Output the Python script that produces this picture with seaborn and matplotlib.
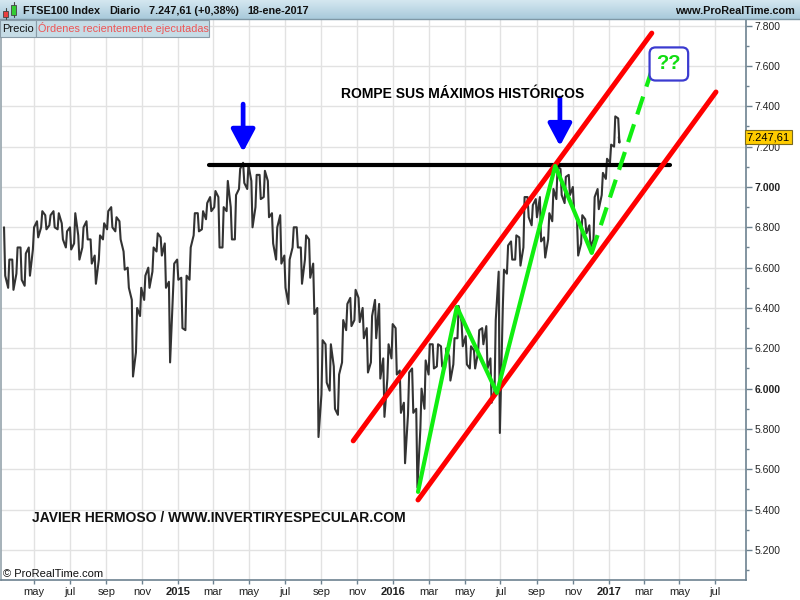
import pandas as pd
import matplotlib
matplotlib.use("Agg")
import matplotlib.pyplot as plt
import numpy as np
from matplotlib.patches import Rectangle
from matplotlib.colors import LinearSegmentedColormap
from matplotlib.transforms import blended_transform_factory
import seaborn as sns

# ---- FTSE100 weekly ranges (week starting Monday) ----
week_start = "2014-03-10"
week_high = [6800, 6640, 6640, 6700, 6700, 6670, 6700, 6800, 6830, 6880,
             6860, 6860, 6880, 6870, 6820, 6780, 6800, 6870, 6760, 6800,
             6830, 6740, 6660, 6760, 6820, 6880, 6900, 6850, 6830, 6680,
             6600, 6440, 6400, 6500, 6560, 6600, 6700, 6770, 6750, 6720,
             6530, 6620, 6640, 6550, 6560, 6700, 6870, 6870, 6880, 6920,
             6950, 6980, 6950, 6900, 7030, 6900, 6960, 7090, 7120, 7110,
             7030, 7060, 7060, 7080, 7030, 6870, 6800, 6860, 6660, 6640,
             6800, 6800, 6700, 6760, 6740, 6620, 6400, 6240, 6220, 6220,
             6110, 6070, 6340, 6420, 6450, 6490, 6450, 6400, 6300, 6360,
             6440, 6420, 6150, 6220, 6320, 6300, 6090, 5930, 6080, 6100,
             5900, 6000, 6140, 6220, 6220, 6220, 6210, 6200, 6160, 6250,
             6410, 6330, 6260, 6210, 6190, 6290, 6300, 6310, 6150, 6340,
             6580, 6590, 6710, 6730, 6760, 6750, 6950, 6950, 6910, 6940,
             6950, 6750, 6870, 6990, 7100, 7090, 7050, 7060, 7000, 6840,
             6860, 6840, 6810, 6950, 6990, 7070, 7140, 7210, 7350, 7340]
week_low = [6560, 6500, 6490, 6570, 6540, 6510, 6560, 6690, 6750, 6800,
            6790, 6810, 6800, 6790, 6740, 6700, 6690, 6720, 6640, 6700,
            6740, 6620, 6520, 6640, 6740, 6790, 6800, 6780, 6740, 6590,
            6500, 6060, 6180, 6360, 6440, 6500, 6580, 6680, 6660, 6500,
            6130, 6480, 6540, 6300, 6290, 6540, 6760, 6780, 6790, 6840,
            6880, 6900, 6700, 6700, 6880, 6740, 6740, 6990, 7020, 6990,
            6800, 6900, 6940, 6950, 6850, 6720, 6640, 6620, 6500, 6420,
            6700, 6700, 6520, 6640, 6550, 6370, 5760, 5970, 6030, 5990,
            5900, 5870, 6130, 6290, 6310, 6340, 6330, 6250, 6080, 6130,
            6250, 6050, 5860, 6050, 6150, 6070, 5880, 5630, 5870, 5880,
            5510, 5800, 5900, 6070, 6100, 6110, 6110, 6100, 6040, 6120,
            6250, 6210, 6120, 6100, 6100, 6180, 6220, 6100, 5930, 5990,
            5780, 6400, 6570, 6640, 6640, 6610, 6700, 6850, 6810, 6850,
            6730, 6650, 6740, 6830, 6940, 6960, 6920, 6960, 6880, 6660,
            6720, 6770, 6700, 6740, 6890, 6960, 7040, 7120, 7200, 7220]
last_date = "2017-01-18"
last_price = 7247.61

# ---- drawn annotations (date, value) ----
resist_dates = ["2015-02-22", "2017-04-15"]
resist_level = 7107
upper_dates = ["2015-10-25", "2017-03-15"]
upper_vals = [5741, 7763]
lower_dates = ["2016-02-12", "2017-07-02"]
lower_vals = [5448, 7471]
zigzag_dates = ["2016-02-12", "2016-04-18", "2016-06-25", "2016-10-02", "2016-12-03"]
zigzag_vals = [5488, 6405, 5979, 7104, 6673]
proj_dates = ["2016-12-03", "2017-03-14"]
proj_vals = [6673, 7570]
arrow_dates = ["2015-04-21", "2016-10-10"]
arrow_top = [7411, 7441]
arrow_tip = [7174, 7203]
qq_date = "2017-04-13"
qq_val = 7610

# ---- axis ticks ----
y_major = [5200, 5400, 5600, 5800, 6000, 6200, 6400, 6600, 6800, 7000, 7200, 7400, 7600, 7800]
y_minor = [5100, 5300, 5500, 5700, 5900, 6100, 6300, 6500, 6700, 6900, 7100, 7300, 7500, 7700]
x_tick_dates = pd.date_range("2014-05-01", "2017-07-01", freq="2MS")
x_tick_labels = ["may", "jul", "sep", "nov", "2015", "mar", "may", "jul", "sep", "nov",
                 "2016", "mar", "may", "jul", "sep", "nov", "2017", "mar", "may", "jul"]

sns.set_theme(style="white")
plt.rcParams["font.family"] = ["Liberation Sans", "DejaVu Sans"]

AXC = "#6d8290"

fig = plt.figure(figsize=(8, 6), dpi=100)
ax = fig.add_axes([0.5 / 800, 20 / 600, 745.5 / 800, 561 / 600])

# continuous high/low zigzag path built from the weekly ranges
week_dates = pd.date_range(week_start, periods=len(week_high), freq="7D")
px, py = [], []
prev = week_high[0]
for d, hi, lo in zip(week_dates, week_high, week_low):
    a, b = (hi, lo) if abs(prev - hi) < abs(prev - lo) else (lo, hi)
    px += [d + pd.Timedelta(days=1), d + pd.Timedelta(days=3)]
    py += [a, b]
    prev = b
px.append(pd.Timestamp(last_date))
py.append(last_price)
price = pd.DataFrame({"date": px, "price": py})

ax.set_axisbelow(True)
ax.grid(True, which="major", color="#e2e2e2", lw=1)
sns.lineplot(data=price, x="date", y="price", sort=False, estimator=None,
             color="#333333", lw=1.5, ax=ax)

# resistance line
ax.plot(pd.to_datetime(resist_dates), [resist_level, resist_level], color="black", lw=3, zorder=4)
# channel
ax.plot(pd.to_datetime(upper_dates), upper_vals, color="#ff0000", lw=3.6, zorder=5)
ax.plot(pd.to_datetime(lower_dates), lower_vals, color="#ff0000", lw=3.6, zorder=5)
# zigzag and projection
ax.plot(pd.to_datetime(zigzag_dates), zigzag_vals, color="#11ee11", lw=3, zorder=6)
ax.plot(pd.to_datetime(proj_dates), proj_vals, color="#11ee11", lw=3,
        linestyle=(0, (4.5, 2.5)), zorder=6)

for d, top, tip in zip(arrow_dates, arrow_top, arrow_tip):
    ax.annotate("", xy=(pd.Timestamp(d), tip), xytext=(pd.Timestamp(d), top),
                arrowprops=dict(arrowstyle="-|>,head_length=0.45,head_width=0.24",
                                mutation_scale=30, lw=3.4, color="#0000ff",
                                shrinkA=0, shrinkB=0), zorder=7)

ax.text(pd.Timestamp(qq_date), qq_val, "??", color="#11dd11", fontsize=14.5,
        fontweight="bold", ha="center", va="center", zorder=8,
        bbox=dict(boxstyle="round,pad=0.35,rounding_size=0.3", fc="white",
                  ec="#3b3bd0", lw=1.6))

ax.set_xlim(pd.Timestamp("2014-03-05"), pd.Timestamp("2017-08-22"))
ax.set_ylim(5051, 7833)
ax.set_xlabel("")
ax.set_ylabel("")

ax.yaxis.tick_right()
ax.set_yticks(y_major)
ax.set_yticklabels([f"{v:,}".replace(",", ".") for v in y_major])
ax.set_yticks(y_minor, minor=True)
for lbl in ax.get_yticklabels():
    if lbl.get_text() in ("7.000", "6.000"):
        lbl.set_fontweight("bold")
ax.tick_params(axis="y", which="major", right=True, left=False, length=4,
               width=1, color=AXC, pad=2, labelsize=7.5, labelcolor="#222222")
ax.tick_params(axis="y", which="minor", right=True, left=False, length=2.5,
               width=1, color=AXC)
ax.set_xticks(x_tick_dates)
ax.set_xticklabels(x_tick_labels)
for lbl in ax.get_xticklabels():
    if lbl.get_text().isdigit():
        lbl.set_fontweight("bold")
        lbl.set_fontsize(9)
ax.tick_params(axis="x", bottom=True, length=3, width=1, color=AXC, pad=2,
               labelsize=8, labelcolor="#222222")

for s in ["right", "bottom"]:
    ax.spines[s].set_color(AXC)
    ax.spines[s].set_linewidth(1.2)
ax.spines["left"].set_color("#9aa8b0")
ax.spines["top"].set_visible(False)

# last price tag on the price scale
tr = blended_transform_factory(ax.transAxes, ax.transData)
ax.text(1.001, last_price, "7.247,61", transform=tr, fontsize=8, color="black",
        ha="left", va="center", clip_on=False, zorder=9,
        bbox=dict(boxstyle="square,pad=0.2", fc="#ffcc00", ec="#7a6a20", lw=0.8))

# ---- pixel overlay for the platform decorations ----
ov = fig.add_axes([0, 0, 1, 1], zorder=5)
ov.set_xlim(0, 800)
ov.set_ylim(600, 0)
ov.axis("off")

hdr = LinearSegmentedColormap.from_list("hdr", ["#d4e7f0", "#a9cadb"])
ov.imshow(np.linspace(0, 1, 20).reshape(-1, 1), cmap=hdr, extent=[0, 800, 19, 0],
          aspect="auto", zorder=1)
ov.plot([0, 800], [19, 19], color="#7f98a6", lw=1, zorder=2)

# candle icon
ov.plot([5.5, 5.5], [8, 19], color="#444444", lw=0.8, zorder=3)
ov.add_patch(Rectangle((3, 10.5), 5, 6.5, fc="#e84040", ec="#444444", lw=0.6, zorder=4))
ov.plot([13.5, 13.5], [2, 17], color="#444444", lw=0.8, zorder=3)
ov.add_patch(Rectangle((11, 5), 5, 10, fc="#33cc33", ec="#444444", lw=0.6, zorder=4))

hkw = dict(fontsize=7.8, fontweight="bold", va="center", color="#111111", zorder=3)
ov.text(23, 10.5, "FTSE100 Index", **hkw)
ov.text(109, 10.5, "Diario", **hkw)
ov.text(149, 10.5, "7.247,61 (+0,38%)", **hkw)
ov.text(247, 10.5, "18-ene-2017", **hkw)
ov.text(795, 11, "www.ProRealTime.com", ha="right",
        **{k: v for k, v in hkw.items() if k != "va"}, va="center")

ov.add_patch(Rectangle((0, 19.5), 35.5, 17.5, fc="#c6dce6", ec="#8a9ca8", lw=0.8, zorder=3))
ov.add_patch(Rectangle((35.5, 19.5), 173.5, 17.5, fc="#c6dce6", ec="#8a9ca8", lw=0.8, zorder=3))
ov.text(2, 28.5, "Precio", fontsize=8, va="center", color="#111111", zorder=4)
ov.text(38, 28.5, "Órdenes recientemente ejecutadas", fontsize=7.8, va="center",
        color="#ee5555", zorder=4)

ov.text(463, 94, "ROMPE SUS MÁXIMOS HISTÓRICOS", fontsize=10, fontweight="bold",
        ha="center", va="center", color="black", zorder=3)
ov.text(32, 518, "JAVIER HERMOSO / WWW.INVERTIRYESPECULAR.COM", fontsize=10,
        fontweight="bold", ha="left", va="center", color="#111111", zorder=3)
ov.text(3, 574, "© ProRealTime.com", fontsize=8, ha="left", va="center",
        color="#111111", zorder=3)

fig.savefig("out.png", dpi=100)
